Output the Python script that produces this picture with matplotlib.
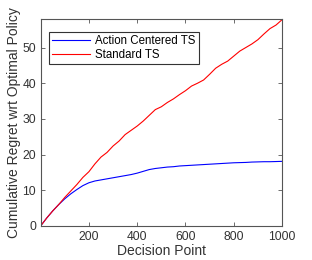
import matplotlib
matplotlib.use("Agg")
from matplotlib import pyplot as plt

plt.rcParams['font.family'] = ['Liberation Sans', 'DejaVu Sans']

# Data
decision_points = [0, 25, 50, 75, 100, 125, 150, 175, 200, 225, 250, 275, 300, 325, 350, 375,
                   400, 425, 450, 475, 500, 525, 550, 575, 600, 625, 650, 675, 700, 725, 750,
                   775, 800, 825, 850, 875, 900, 925, 950, 975, 1000]
action_centered = [0, 2.2, 4.2, 6.0, 7.6, 9.0, 10.2, 11.3, 12.1, 12.6, 12.9, 13.2, 13.5, 13.8,
                   14.1, 14.4, 14.8, 15.3, 15.8, 16.1, 16.3, 16.5, 16.6, 16.8, 16.9, 17.0,
                   17.1, 17.2, 17.3, 17.4, 17.5, 17.6, 17.7, 17.75, 17.8, 17.9, 17.95, 18.0,
                   18.0, 18.05, 18.1]
standard = [0, 2.2, 4.2, 6.0, 8.0, 9.8, 11.6, 13.6, 15.2, 17.4, 19.3, 20.6, 22.4, 23.8, 25.6,
            26.8, 28.0, 29.4, 31.0, 32.6, 33.4, 34.6, 35.6, 36.8, 37.9, 39.2, 40.0, 40.9,
            42.5, 44.2, 45.3, 46.2, 47.6, 49.0, 50.0, 51.0, 52.2, 53.8, 55.3, 56.3, 57.8]

fig = plt.figure(figsize=(3.12, 2.6), dpi=100)
ax = fig.add_axes([0.131, 0.131, 0.773, 0.796])

ax.plot(decision_points, action_centered, color="blue", linewidth=0.8, label="Action Centered TS")
ax.plot(decision_points, standard, color="red", linewidth=0.8, label="Standard TS")

ax.set_xlim(1, 1000)
ax.set_ylim(0, 58)
ax.set_xticks([200, 400, 600, 800, 1000])
ax.set_yticks([0, 10, 20, 30, 40, 50])
ax.tick_params(direction="in", top=True, right=True, labelsize=8.7, length=3,
               color="#555555", labelcolor="#333333", width=0.6)
for s in ax.spines.values():
    s.set_color("#555555")
    s.set_linewidth(0.8)

ax.set_xlabel("Decision Point", fontsize=10, color="#333333", labelpad=1)
ax.set_ylabel("Cumulative Regret wrt Optimal Policy", fontsize=10, color="#333333", labelpad=1)

leg = ax.legend(loc="upper left", bbox_to_anchor=(0.033, 0.937), fontsize=8.3, fancybox=False,
                edgecolor="#333333", framealpha=1, handlelength=3.3, borderpad=0.3,
                labelspacing=0.1, handletextpad=0.4, borderaxespad=0)
leg.get_frame().set_linewidth(0.8)

plt.savefig("out.png", dpi=100)
